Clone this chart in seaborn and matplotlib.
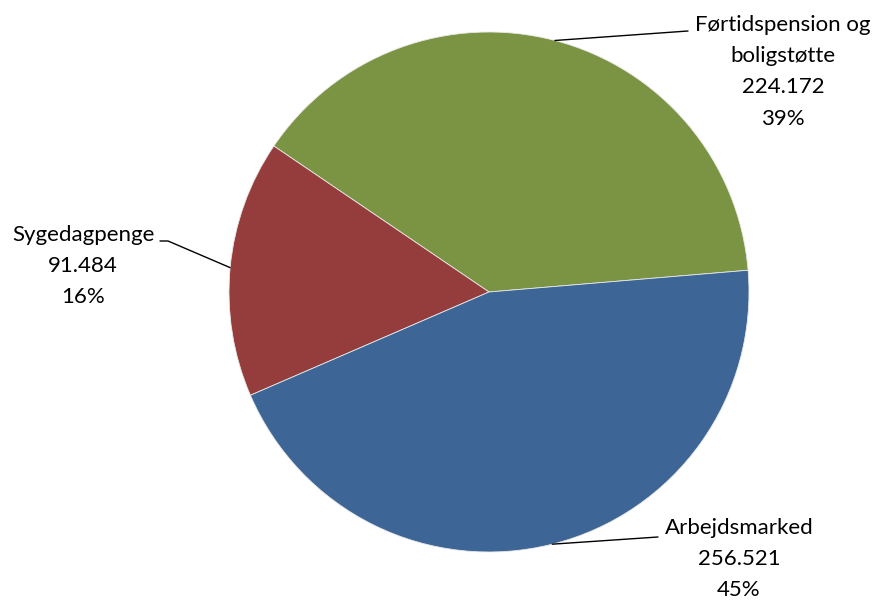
import numpy as np
import seaborn as sns
import matplotlib.pyplot as plt

# slices, counter-clockwise from the right-hand side
categories = ["Førtidspension og\nboligstøtte", "Sygedagpenge", "Arbejdsmarked"]
values = [224.172, 91.484, 256.521]
percent_labels = ["39%", "16%", "45%"]
value_labels = ["224.172", "91.484", "256.521"]
slice_colors = ["#7A9443", "#953D3C", "#3D6596"]

sns.set_theme(style="white")
plt.rcParams["font.family"] = ["Lato", "DejaVu Sans"]

fig = plt.figure(figsize=(8.77, 6.0), dpi=100)
ax = fig.add_axes([0, 0, 1, 1])

center = (489, 308)
radius = 260
wedges, _ = ax.pie(
    values,
    colors=sns.color_palette(slice_colors),
    startangle=4.8,
    counterclock=True,
    center=center,
    radius=radius,
    wedgeprops={"edgecolor": "#e8e8e8", "linewidth": 0.6},
    frame=True,
)
ax.set_xlim(0, 877)
ax.set_ylim(0, 600)
ax.set_aspect("equal")
ax.axis("off")

# label boxes: (text centre x, text top y, leader elbow x, leader elbow y)
label_pos = [
    (783, 585, 688, 569),
    (83, 375, 168, 359),
    (739, 82, 658, 63),
]

for w, cat, val, pct, (tx, ty, ex, ey) in zip(wedges, categories, value_labels, percent_labels, label_pos):
    mid = np.deg2rad((w.theta1 + w.theta2) / 2)
    px = center[0] + radius * np.cos(mid)
    py = center[1] + radius * np.sin(mid)
    if ex < center[0]:
        ax.plot([px, ex, ex - 8], [py, ey, ey], color="black", lw=1.0)
    else:
        ax.plot([px, ex], [py, ey], color="black", lw=1.0)
    ax.text(tx, ty, f"{cat}\n{val}\n{pct}", ha="center", va="top",
            fontsize=16, linespacing=1.7, color="black")

fig.savefig("out.png", dpi=100)
